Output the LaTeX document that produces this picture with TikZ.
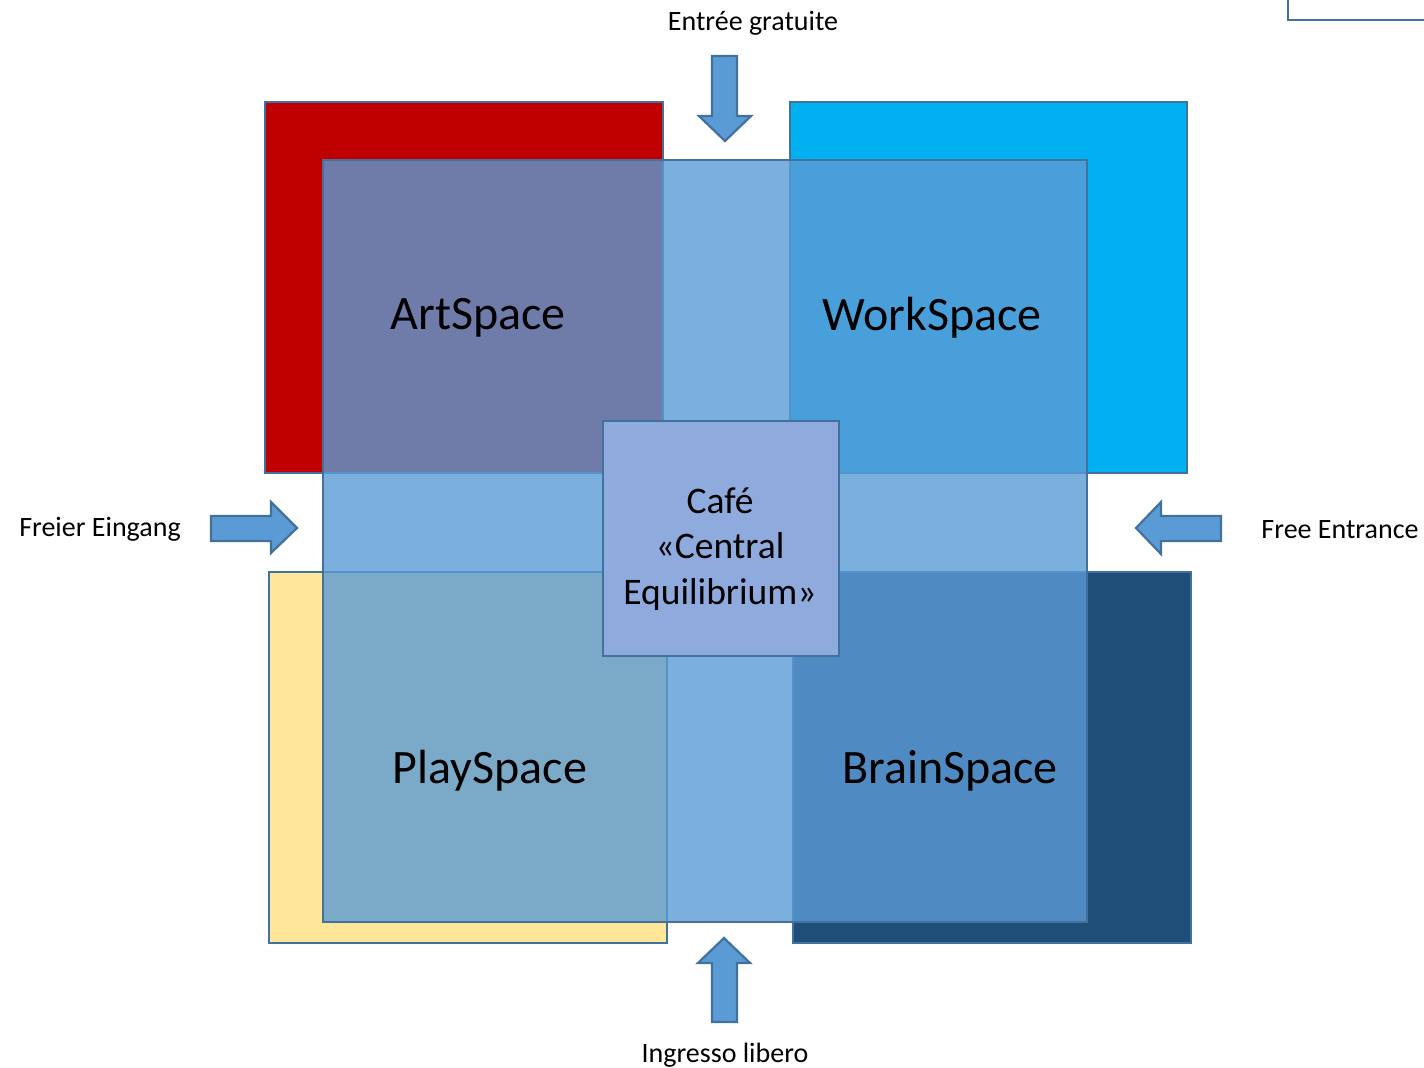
\documentclass[tikz,border=0pt]{standalone}
\usepackage{fontspec}
\setmainfont{Carlito}
\definecolor{edgeblue}{HTML}{41719C}
\definecolor{artred}{HTML}{C00000}
\definecolor{workcyan}{HTML}{00B0F0}
\definecolor{playyellow}{HTML}{FFE699}
\definecolor{braindark}{HTML}{1F4E79}
\definecolor{ovblue}{HTML}{5B9BD5}
\definecolor{cafeblue}{HTML}{8FAADC}
\begin{document}
\begin{tikzpicture}[x=1pt,y=-1pt,
  zone/.style={draw=edgeblue, line width=2.2pt, inner sep=0pt, outer sep=0pt, rectangle, anchor=north west},
  lbl/.style={font=\fontsize{28}{33}\selectfont, inner sep=0pt},
  big/.style={font=\fontsize{48}{57}\selectfont, inner sep=0pt},
  arr/.style={draw=edgeblue, fill=ovblue, line width=2.2pt, line join=miter}]
\clip (0,0) rectangle (1424,1068);
\fill[white] (0,0) rectangle (1424,1068);
% partial box top right
\node[zone, fill=white, minimum width=160pt, minimum height=80pt] (corner) at (1288,-60) {};
% four coloured zones
\node[zone, fill=artred, minimum width=398pt, minimum height=371pt] (artbg) at (265,102) {};
\node[zone, fill=workcyan, minimum width=397pt, minimum height=371pt] (workbg) at (790,102) {};
\node[zone, fill=playyellow, minimum width=398pt, minimum height=371pt] (playbg) at (269,572) {};
\node[zone, fill=braindark, minimum width=398pt, minimum height=371pt] (brainbg) at (793,572) {};
% translucent overlay
\node[zone, fill=ovblue, fill opacity=0.8, minimum width=764pt, minimum height=762pt] (overlay) at (323,160) {};
% cafe
\node[zone, fill=cafeblue, minimum width=236pt, minimum height=235pt] (cafe) at (603,421) {};
\node[font=\fontsize{37.5}{45.5}\selectfont, align=center, inner sep=0pt] (cafetext) at (720,549) {Café\\«Central\\Equilibrium»};
% zone labels
\node[big] (art) at (478,318) {ArtSpace};
\node[big] (work) at (932,318) {WorkSpace};
\node[big] (play) at (490,771) {PlaySpace};
\node[big] (brain) at (950,771) {BrainSpace};
% arrows
\draw[arr] (712,56) -- (737,56) -- (737,116) -- (751,116) -- (725,141) -- (699,116) -- (712,116) -- cycle;
\draw[arr] (712,1022) -- (737,1022) -- (737,963) -- (750,963) -- (724,938) -- (698,963) -- (712,963) -- cycle;
\draw[arr] (211,516) -- (271,516) -- (271,502) -- (297,528) -- (271,553) -- (271,541) -- (211,541) -- cycle;
\draw[arr] (1221,516) -- (1161,516) -- (1161,502) -- (1136,528) -- (1161,554) -- (1161,541) -- (1221,541) -- cycle;
% entrance labels
\node[lbl] (ltop) at (753,23) {Entrée gratuite};
\node[lbl] (lbottom) at (725,1055) {Ingresso libero};
\node[lbl] (lleft) at (100,529) {Freier Eingang};
\node[lbl] (lright) at (1340,530) {Free Entrance};
\end{tikzpicture}
\end{document}
